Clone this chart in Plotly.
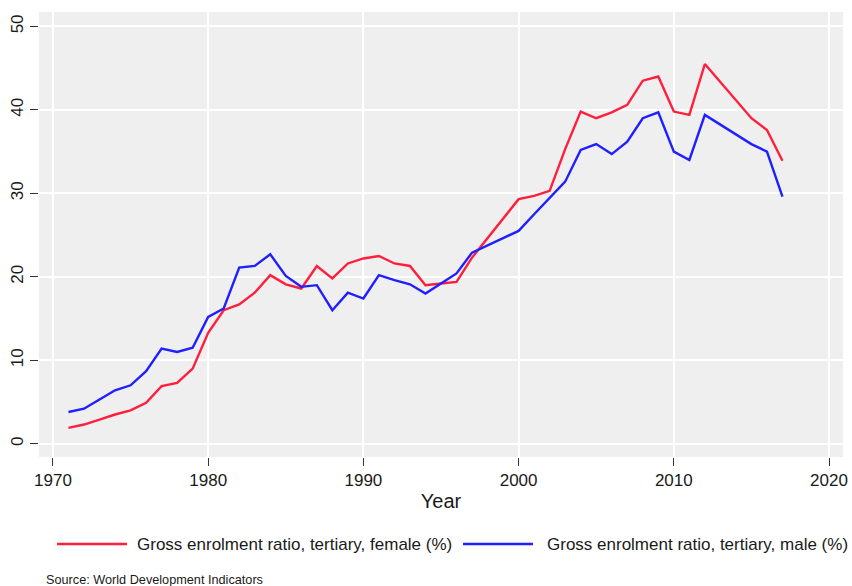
import plotly.graph_objects as go

years = [1971, 1972, 1973, 1974, 1975, 1976, 1977, 1978, 1979, 1980,
         1981, 1982, 1983, 1984, 1985, 1986, 1987, 1988, 1989, 1990,
         1991, 1992, 1993, 1994, 1995, 1996, 1997, 2000, 2001, 2002,
         2003, 2004, 2005, 2006, 2007, 2008, 2009, 2010, 2011, 2012,
         2015, 2016, 2017]
female = [1.9, 2.3, 2.9, 3.5, 4.0, 4.9, 6.9, 7.3, 9.0, 13.3,
          16.0, 16.7, 18.1, 20.2, 19.1, 18.6, 21.3, 19.8, 21.6, 22.2,
          22.5, 21.6, 21.3, 19.0, 19.2, 19.4, 22.3, 29.3, 29.7, 30.3,
          35.3, 39.8, 39.0, 39.7, 40.6, 43.5, 44.0, 39.8, 39.4, 45.5,
          39.0, 37.6, 33.9]
male = [3.8, 4.2, 5.3, 6.4, 7.0, 8.7, 11.4, 11.0, 11.5, 15.2,
        16.2, 21.1, 21.3, 22.7, 20.1, 18.8, 19.0, 16.0, 18.1, 17.4,
        20.2, 19.6, 19.1, 18.0, 19.2, 20.4, 22.9, 25.5, 27.5, 29.5,
        31.4, 35.2, 35.9, 34.7, 36.2, 39.0, 39.7, 35.0, 34.0, 39.4,
        35.9, 35.0, 29.6]

series_names = ["Gross enrolment ratio, tertiary, female (%)",
                "Gross enrolment ratio, tertiary, male (%)"]
x_ticks = [1970, 1980, 1990, 2000, 2010, 2020]
y_ticks = [0, 10, 20, 30, 40, 50]
source_text = "Source: World Development Indicators"

RED = "#ff1f3d"
BLUE = "#1f1fff"
FONT = "Liberation Sans"
TXT = "#1a1a1a"
W, H = 852, 586
ML, MT = 39, 12
MR = W - 843
MB = H - 457
PW, PH = W - ML - MR, H - MT - MB


def px_x(rx):
    return (rx - ML) / PW


def px_y(ry):
    return (H - MB - ry) / PH


fig = go.Figure()
fig.add_trace(go.Scatter(x=years, y=female, mode="lines", name=series_names[0],
                         line=dict(color=RED, width=2.4), showlegend=False))
fig.add_trace(go.Scatter(x=years, y=male, mode="lines", name=series_names[1],
                         line=dict(color=BLUE, width=2.4), showlegend=False))

# custom legend
legend_items = [(57, 127, 135, RED, series_names[0]),
                (463, 533, 545, BLUE, series_names[1])]
ly = 544
for x0, x1, xt, col, txt in legend_items:
    fig.add_shape(type="line", xref="paper", yref="paper",
                  x0=px_x(x0), x1=px_x(x1), y0=px_y(ly), y1=px_y(ly),
                  line=dict(color=col, width=2.4))
    fig.add_annotation(xref="paper", yref="paper", x=px_x(xt), y=px_y(ly),
                       xanchor="left", yanchor="middle", showarrow=False,
                       text=txt, font=dict(family=FONT, size=17, color=TXT))

fig.add_annotation(xref="paper", yref="paper", x=px_x(44), y=px_y(580),
                   xanchor="left", yanchor="middle", showarrow=False,
                   text=source_text, font=dict(family=FONT, size=12.7, color=TXT))

fig.update_layout(
    width=W, height=H,
    margin=dict(l=ML, r=MR, t=MT, b=MB),
    paper_bgcolor="white",
    plot_bgcolor="#efefef",
    font=dict(family=FONT, color=TXT),
    showlegend=False,
)
fig.update_xaxes(
    range=[1969.1, 2020.9], tickvals=x_ticks, automargin=False,
    ticks="outside", ticklen=8, tickwidth=1, tickcolor="#333333",
    showgrid=True, gridcolor="white", gridwidth=1.5,
    zeroline=False, showline=False,
    tickfont=dict(family=FONT, size=17, color=TXT),
    title=dict(text="Year", font=dict(family=FONT, size=20, color=TXT), standoff=4),
)
fig.update_yaxes(
    range=[-1.59, 51.73], tickvals=y_ticks, automargin=False,
    ticks="outside", ticklen=8, tickwidth=1, tickcolor="#333333",
    showgrid=True, gridcolor="white", gridwidth=1.5,
    zeroline=False, showline=False, tickangle=-90,
    tickfont=dict(family=FONT, size=17, color=TXT),
)

fig.write_html(
    "out.html",
    config={"displayModeBar": False},
    post_script="document.body.style.margin='0';document.body.style.overflow='hidden';",
)
